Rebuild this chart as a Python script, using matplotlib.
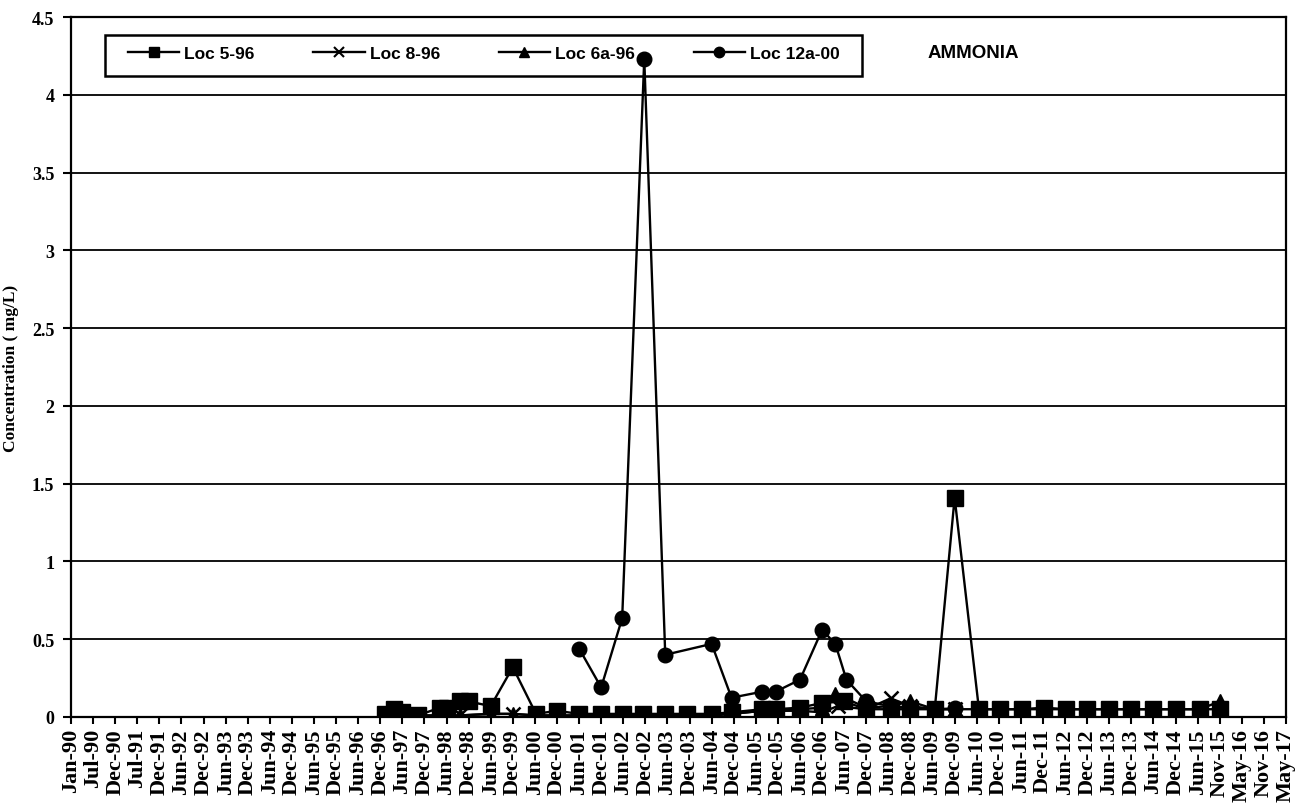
import matplotlib
matplotlib.use("Agg")
import matplotlib.pyplot as plt
from matplotlib.lines import Line2D
from matplotlib.patches import Rectangle
from matplotlib.font_manager import FontProperties

# ---------------- data ----------------
tick_labels = ["Jan-90", "Jul-90", "Dec-90", "Jul-91", "Dec-91", "Jun-92", "Dec-92",
               "Jun-93", "Dec-93", "Jun-94", "Dec-94", "Jun-95", "Dec-95", "Jun-96",
               "Dec-96", "Jun-97", "Dec-97", "Jun-98", "Dec-98", "Jun-99", "Dec-99",
               "Jun-00", "Dec-00", "Jun-01", "Dec-01", "Jun-02", "Dec-02", "Jun-03",
               "Dec-03", "Jun-04", "Dec-04", "Jun-05", "Dec-05", "Jun-06", "Dec-06",
               "Jun-07", "Dec-07", "Jun-08", "Dec-08", "Jun-09", "Dec-09", "Jun-10",
               "Dec-10", "Jun-11", "Dec-11", "Jun-12", "Dec-12", "Jun-13", "Dec-13",
               "Jun-14", "Dec-14", "Jun-15", "Nov-15", "May-16", "Nov-16", "May-17"]

# x positions are expressed in category-tick units (0 = Jan-90 ... 55 = May-17)
loc5_x = [14.2, 14.6, 15.0, 15.7, 16.7, 17.0, 17.6, 18.0, 19.0, 20.0, 21.05, 22.0,
          23.0, 24.0, 25.0, 25.9, 26.9, 27.9, 29.0, 29.9, 31.3, 31.9, 33.0, 34.0,
          35.0, 36.0, 37.1, 38.0, 39.1, 40.0, 41.1, 42.05, 43.05, 44.05, 45.05,
          46.0, 47.0, 48.0, 49.0, 50.0, 51.1, 52.0]
loc5_y = [0.02, 0.05, 0.03, 0.01, 0.06, 0.06, 0.10, 0.10, 0.07, 0.32, 0.02, 0.04,
          0.02, 0.02, 0.02, 0.02, 0.02, 0.02, 0.02, 0.03, 0.05, 0.05, 0.06, 0.09,
          0.10, 0.05, 0.05, 0.05, 0.05, 1.41, 0.05, 0.05, 0.05, 0.06, 0.05,
          0.05, 0.05, 0.05, 0.05, 0.05, 0.05, 0.05]

loc8_x = [14.2, 15.0, 15.7, 16.7, 17.6, 19.0, 20.0, 21.05, 22.0, 23.0, 24.0, 25.0,
          25.9, 26.9, 27.9, 29.0, 29.9, 31.3, 31.9, 33.0, 34.0, 34.7, 36.0, 37.1,
          38.0, 39.1, 40.0]
loc8_y = [0.01, 0.01, 0.01, 0.01, 0.01, 0.02, 0.02, 0.01, 0.01, 0.01, 0.01, 0.01,
          0.01, 0.01, 0.01, 0.01, 0.02, 0.04, 0.04, 0.04, 0.03, 0.07, 0.05, 0.12,
          0.07, 0.05, 0.05]

loc6a_x = [14.2, 15.0, 15.7, 16.7, 17.6, 19.0, 20.0, 21.05, 22.0, 23.0, 24.0, 25.0,
           25.9, 26.9, 27.9, 29.0, 29.9, 31.3, 31.9, 33.0, 34.0, 34.6, 36.0, 37.1,
           38.0, 39.1, 40.0, 41.1, 42.05, 43.05, 44.05, 45.05, 46.0, 47.0, 48.0,
           49.0, 50.0, 51.1, 52.0]
loc6a_y = [0.01, 0.01, 0.01, 0.01, 0.01, 0.02, 0.02, 0.01, 0.01, 0.01, 0.01, 0.01,
           0.01, 0.01, 0.01, 0.01, 0.02, 0.04, 0.04, 0.05, 0.06, 0.15, 0.06, 0.07,
           0.10, 0.05, 0.05, 0.05, 0.05, 0.05, 0.05, 0.05, 0.05, 0.05, 0.05,
           0.05, 0.05, 0.05, 0.10]

loc12_x = [23.0, 24.0, 24.95, 25.95, 26.9, 29.0, 29.9, 31.3, 31.9, 33.0, 34.0, 34.6,
           35.1, 36.0, 37.1, 38.0, 39.1, 40.0]
loc12_y = [0.44, 0.19, 0.635, 4.23, 0.40, 0.47, 0.124, 0.163, 0.163, 0.24, 0.56, 0.47,
           0.24, 0.10, 0.07, 0.06, 0.05, 0.055]

series_labels = ["Loc 5-96", "Loc 8-96", "Loc 6a-96", "Loc 12a-00"]
y_ticks = [0, 0.5, 1, 1.5, 2, 2.5, 3, 3.5, 4, 4.5]
y_tick_labels = ["0", "0.5", "1", "1.5", "2", "2.5", "3", "3.5", "4", "4.5"]

# ---------------- figure ----------------
serif = "Liberation Serif"
sans = "Liberation Sans"
W, H = 1302, 812
X0, X1, Y0, Y1 = 71, 1286, 18, 718   # plot-area pixel box


def ax_x(px):
    return (px - X0) / (X1 - X0)


def ax_y(py):
    return (Y1 - py) / (Y1 - Y0)


fig = plt.figure(figsize=(W / 100, H / 100), dpi=100)
ax = fig.add_axes([X0 / W, 1 - Y1 / H, (X1 - X0) / W, (Y1 - Y0) / H])

style = dict(color="black", lw=1.7, markerfacecolor="black", markeredgecolor="black")
ax.plot(loc5_x, loc5_y, marker="s", ms=11, zorder=3, **style)
ax.plot(loc8_x, loc8_y, marker="x", ms=10, mew=1.8, zorder=4, **style)
ax.plot(loc6a_x, loc6a_y, marker="^", ms=10, zorder=5, **style)
ax.plot(loc12_x, loc12_y, marker="o", ms=10.5, zorder=6, **style)

ax.set_xlim(0, len(tick_labels) - 1)
ax.set_ylim(0, 4.5)
ax.set_xticks(range(len(tick_labels)))
ax.set_xticklabels(tick_labels, rotation=90, fontfamily=serif, fontweight="bold",
                   fontsize=16)
ax.set_yticks(y_ticks)
ax.set_yticklabels(y_tick_labels, fontfamily=serif, fontweight="bold", fontsize=13)
ax.tick_params(axis="x", direction="out", length=5, width=1.5, pad=3)
ax.tick_params(axis="y", direction="out", length=6, width=1.5, pad=6)

ax.yaxis.grid(True, color="black", lw=1.3)
ax.set_axisbelow(True)
for s in ax.spines.values():
    s.set_color("black")
    s.set_linewidth(1.6)

ax.set_ylabel("Concentration ( mg/L)", fontfamily=serif, fontweight="bold",
              fontsize=12.5)
ax.yaxis.set_label_coords(ax_x(19), 0.5)

# legend box (drawn beneath the data lines, as in the reference)
box = Rectangle((ax_x(105), ax_y(77)), ax_x(862) - ax_x(105), ax_y(36) - ax_y(77),
                transform=ax.transAxes, facecolor="white", edgecolor="black",
                lw=1.8, zorder=2.4, clip_on=False)
ax.add_patch(box)

handles = [
    Line2D([], [], marker="s", ms=7.5, **style),
    Line2D([], [], marker="x", ms=7.5, mew=1.5, **style),
    Line2D([], [], marker="^", ms=7.5, **style),
    Line2D([], [], marker="o", ms=7.5, **style),
]
leg = ax.legend(handles, series_labels, loc="center left",
                bbox_to_anchor=(ax_x(128), ax_y(54), ax_x(840) - ax_x(128), 0),
                mode="expand", ncol=4, frameon=False,
                prop=FontProperties(family=sans, weight="bold", size=12.5),
                handlelength=2.95, handletextpad=0.3, borderaxespad=0, borderpad=0)
leg.set_zorder(2.5)

ax.text(ax_x(973), ax_y(53), "AMMONIA", transform=ax.transAxes, fontfamily=sans,
        fontweight="bold", fontsize=13.5, ha="center", va="center")

fig.savefig("out.png", dpi=100)
